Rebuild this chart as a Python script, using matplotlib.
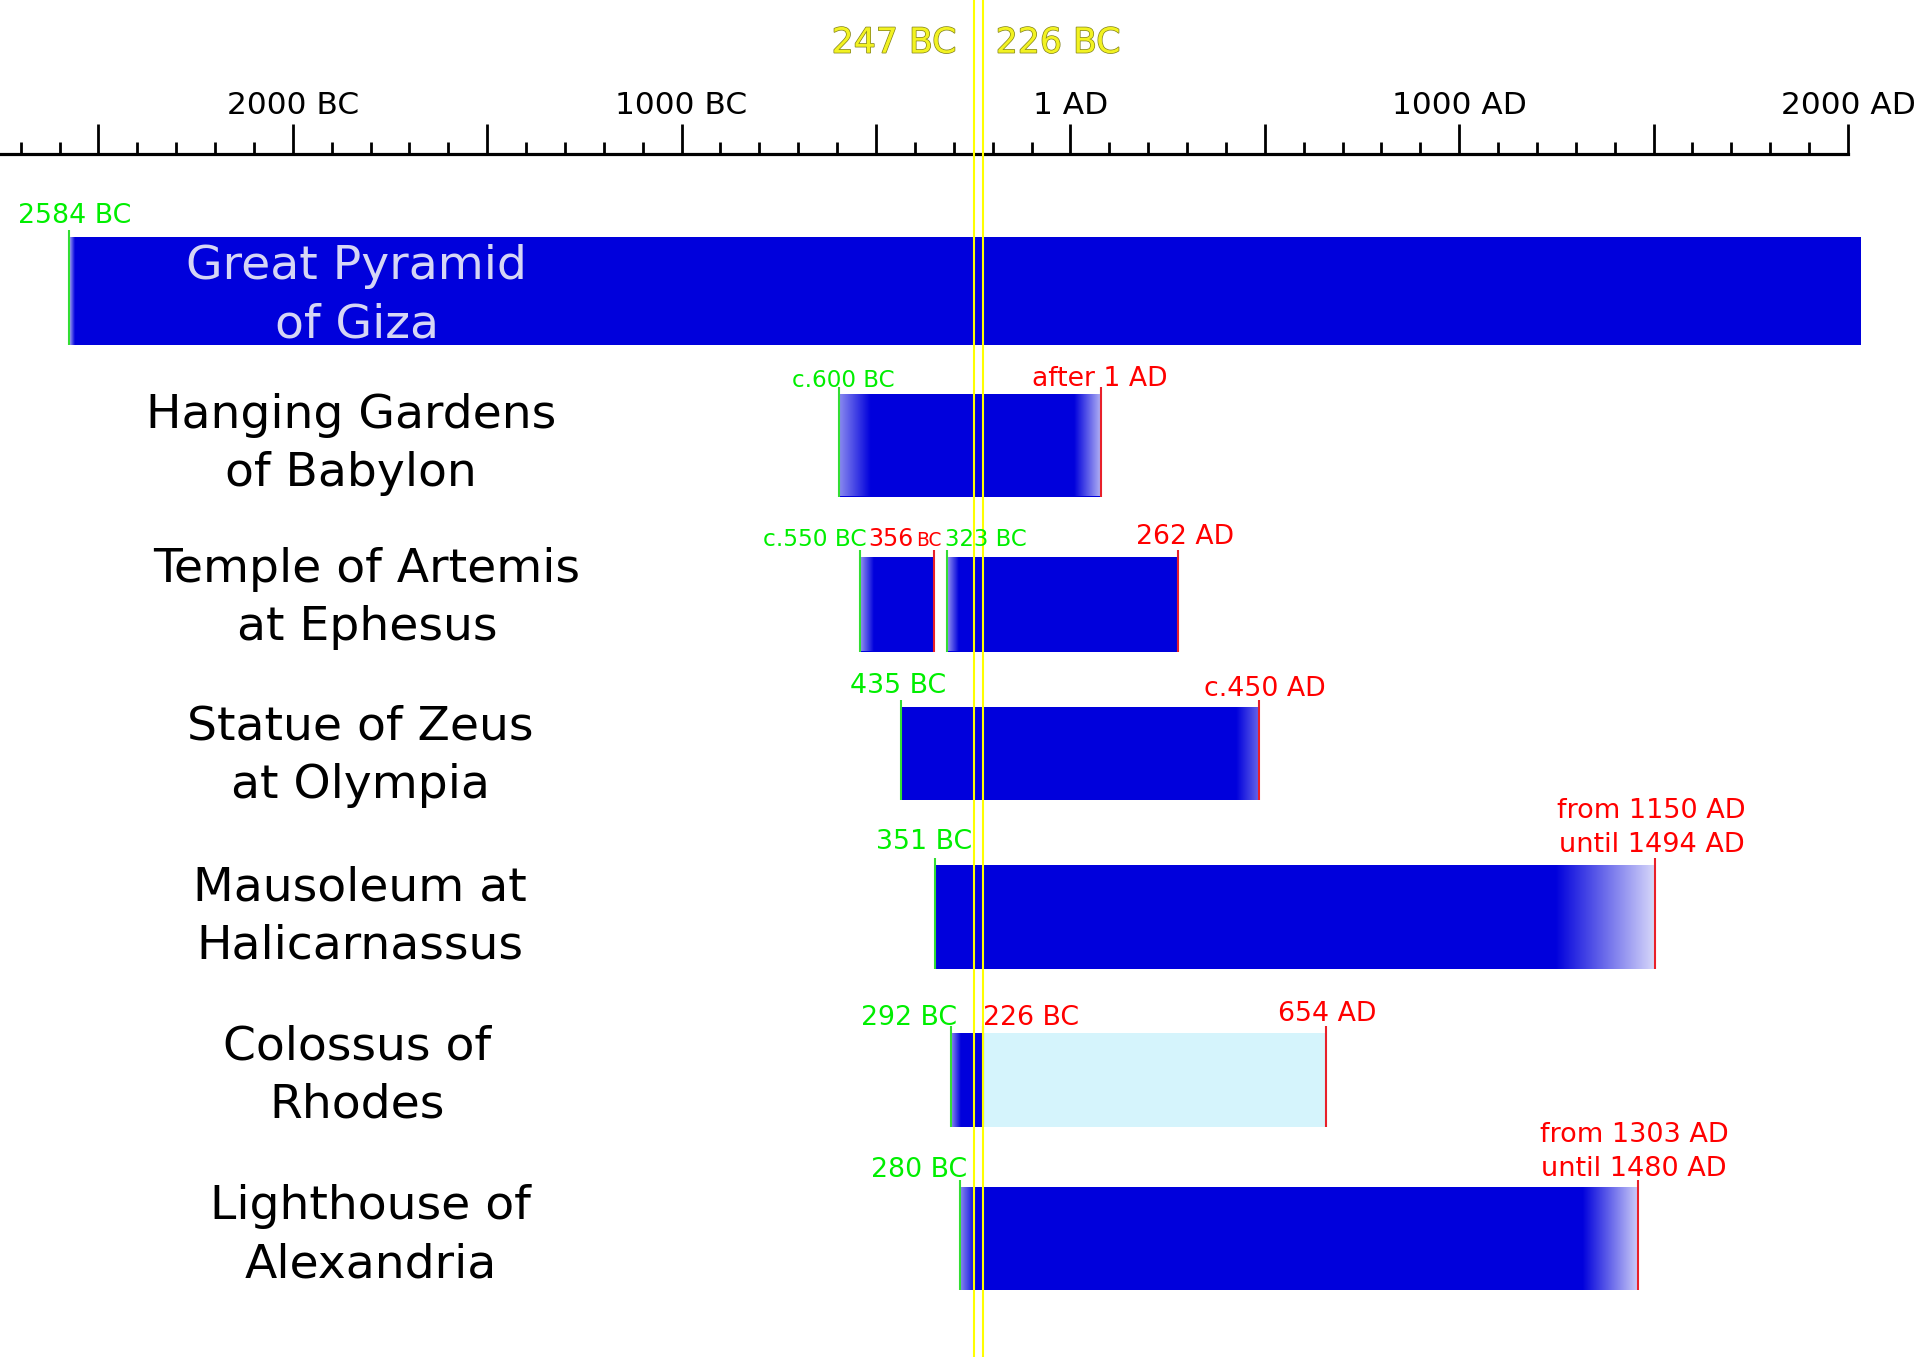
import numpy as np
import matplotlib
matplotlib.use("Agg")
import matplotlib.pyplot as plt
import matplotlib.patheffects as pe
from matplotlib.ticker import FixedLocator, FuncFormatter

# the seven wonders, top to bottom (label split over two lines)
wonder_line1 = ["Great Pyramid", "Hanging Gardens", "Temple of Artemis", "Statue of Zeus",
                "Mausoleum at", "Colossus of", "Lighthouse of"]
wonder_line2 = ["of Giza", "of Babylon", "at Ephesus", "at Olympia",
                "Halicarnassus", "Rhodes", "Alexandria"]

# bar segments in years (BC negative)
seg_row = [0, 1, 2, 2, 3, 4, 5, 5, 6]
seg_start = [-2575, -595, -540, -318, -435, -348, -306, -226, -284]
seg_end = [2033, 78, -352, 276, 484, 1503, -226, 658, 1460]
seg_fade_in = [14, 80, 34, 30, 0, 0, 25, 0, 40]      # years of fade at start
seg_fade_out = [0, 68, 0, 0, 57, 257, 0, 0, 144]     # years of fade at end
seg_mark_start = [1, 1, 1, 1, 1, 1, 1, 0, 1]
seg_mark_end = [0, 1, 1, 1, 1, 1, 1, 1, 1]
seg_ruin = [0, 0, 0, 0, 0, 0, 0, 1, 0]                # colossus lying in ruins

# date labels: text, anchor year, colour (g/r)
date_text = ["2584 BC", "c.600 BC", "after 1 AD", "c.550 BC", "356", "BC", "323 BC", "262 AD",
             "435 BC", "c.450 AD", "351 BC", "from 1150 AD", "until 1494 AD",
             "292 BC", "226 BC", "654 AD", "280 BC", "from 1303 AD", "until 1480 AD"]
date_year = [-2575, -595, 78, -540, -352, -352, -318, 276,
             -435, 484, -348, 1503, 1503,
             -306, -226, 658, -284, 1460, 1460]
date_col = ["g", "g", "r", "g", "r", "r", "g", "r",
            "g", "r", "g", "r", "r",
            "g", "r", "r", "g", "r", "r"]

# highlighted years
mark_years = [-247, -226]
mark_text = ["247 BC", "226 BC"]

# ---- layout (pixels) ----
W, H = 1920, 1357
PX0, PXY = 1070.4, 0.3888          # pixel of 1 AD, pixels per year
row_top = [236.7, 394, 557, 706.7, 864.5, 1033, 1187]
row_bot = [345, 496.5, 651.5, 800, 969, 1127, 1290]
label_x = [356.5, 351, 367, 360, 359.6, 357, 370.5]
label_base = [279.3, 428.3, 581.7, 739.6, 900.7, 1060, 1219]
fade_floor_in = [0.3, 0.45, 0.4, 0.4, 0, 0, 0.45, 0, 0.45]
fade_floor_out = [1, 0.3, 1, 1, 0.6, 0.15, 1, 1, 0.2]
# per date label: fontsize, ha, x offset px, baseline px
date_fmt = [(19.3, "center", 5, 223.3), (16.6, "center", 4, 387.3), (19.2, "center", -1, 386),
            (16.8, "right", 6, 545.7), (17, "right", -19.7, 545.7), (13.4, "right", 8.5, 545.7),
            (16.4, "left", -1.6, 545.7), (19.2, "center", 7, 544),
            (19.3, "center", -3, 693.3), (19.3, "center", 6, 696), (19.3, "center", -11, 849.3),
            (19.5, "center", -3, 818.3), (19.5, "center", -2.5, 851.7),
            (19.3, "right", 6, 1025), (19.3, "left", 0.6, 1025), (19.3, "center", 1, 1020.7),
            (19.3, "right", 7, 1177.3), (19.5, "center", -4, 1141.7), (19.5, "center", -4, 1175.7)]

BLUE = "#0000dc"
RUIN = "#d5f4fc"
GREEN_TXT, RED_TXT = "#00ee00", "#ff0000"
GREEN_LN, RED_LN = "#33dd33", "#e8202a"


def px2year(px):
    return (px - PX0) / PXY


fig = plt.figure(figsize=(W / 100, H / 100), dpi=100)
ax = fig.add_axes([0, 0, 1, 1])
ax.set_xlim(px2year(0), px2year(W))
ax.set_ylim(H, 0)

# bars
for i in range(len(seg_row)):
    r = seg_row[i]
    top, bot = row_top[r], row_bot[r]
    ax.barh((top + bot) / 2, seg_end[i] - seg_start[i], left=seg_start[i], height=bot - top,
            color=RUIN if seg_ruin[i] else BLUE, edgecolor="none", zorder=2)
    # fades as white overlays
    if seg_fade_in[i]:
        a = np.linspace(1 - fade_floor_in[i], 0, 200)
        img = np.ones((1, 200, 4))
        img[0, :, 3] = a
        ax.imshow(img, extent=(seg_start[i], seg_start[i] + seg_fade_in[i], bot, top),
                  aspect="auto", interpolation="bilinear", zorder=3)
    if seg_fade_out[i]:
        a = np.linspace(0, 1 - fade_floor_out[i], 200)
        img = np.ones((1, 200, 4))
        img[0, :, 3] = a
        ax.imshow(img, extent=(seg_end[i] - seg_fade_out[i], seg_end[i], bot, top),
                  aspect="auto", interpolation="bilinear", zorder=3)
    if seg_mark_start[i]:
        ax.vlines(seg_start[i], top - 7, bot, color=GREEN_LN, lw=1.5, zorder=4)
    if seg_mark_end[i]:
        ax.vlines(seg_end[i], top - 7, bot, color=RED_LN, lw=1.5, zorder=4)

# highlighted years
for yr in mark_years:
    ax.axvline(yr, color="#ffff00", lw=1.5, zorder=6)
yellow_fx = [pe.withStroke(linewidth=1.0, foreground="#80801a")]
ax.annotate(mark_text[0], (mark_years[0], 52.7), xytext=(-17.7 * 0.72, 0), textcoords="offset points",
            ha="right", va="baseline", fontsize=25, color="#f2f222", path_effects=yellow_fx)
ax.annotate(mark_text[1], (mark_years[1], 52.7), xytext=(13.2 * 0.72, 0), textcoords="offset points",
            ha="left", va="baseline", fontsize=25, color="#f2f222", path_effects=yellow_fx)

# wonder names
for r in range(len(wonder_line1)):
    c = "#d5d5f5" if r == 0 else "black"
    ax.text(px2year(label_x[r]), label_base[r], wonder_line1[r], ha="center", va="baseline",
            fontsize=34, color=c, zorder=7)
    ax.text(px2year(label_x[r]), label_base[r] + 58, wonder_line2[r], ha="center", va="baseline",
            fontsize=34, color=c, zorder=7)

# date labels
for t, yr, c, (fs, ha, dx, yb) in zip(date_text, date_year, date_col, date_fmt):
    ax.annotate(t, (yr, yb), xytext=(dx * 0.72, 0), textcoords="offset points", ha=ha,
                va="baseline", fontsize=fs, color=GREEN_TXT if c == "g" else RED_TXT, zorder=7)

# timeline ruler on the top spine
for s in ["left", "right", "bottom"]:
    ax.spines[s].set_visible(False)
ax.spines["top"].set_position(("data", 154))
ax.spines["top"].set_bounds(px2year(0), 2000)
ax.spines["top"].set_linewidth(2.3)
ax.yaxis.set_visible(False)
ax.xaxis.set_ticks_position("top")
ax.xaxis.set_major_locator(FixedLocator(np.arange(-2500, 2001, 500)))
ax.xaxis.set_minor_locator(FixedLocator(np.arange(-2700, 2001, 100)))


def fmt(v, pos):
    v = int(round(v))
    if v % 1000:
        return ""
    if v < 0:
        return f"{-v} BC"
    return "1 AD" if v == 0 else f"{v} AD"


ax.xaxis.set_major_formatter(FuncFormatter(fmt))
ax.tick_params(axis="x", which="major", direction="out", length=21.6, width=2.0,
               labelsize=22.5, pad=3, top=True, labeltop=True, bottom=False, labelbottom=False)
ax.tick_params(axis="x", which="minor", direction="out", length=8.9, width=2.0,
               top=True, bottom=False)

fig.savefig("out.png", dpi=100)
